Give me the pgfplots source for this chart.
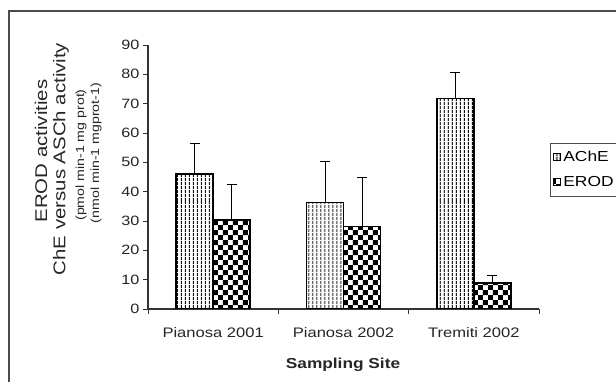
\documentclass[border=0pt]{standalone}
\usepackage{fontspec}
\setmainfont{Liberation Sans}[FakeStretch=1.2]
\usepackage{pgfplots}
\pgfplotsset{compat=1.18}
\usetikzlibrary{patterns.meta}
\tikzdeclarepattern{
  name=mychecker,
  type=uncolored,
  bottom left={(0pt,0pt)},
  top right={(10.4pt,10.4pt)},
  tile size={(10.4pt,10.4pt)},
  code={
    \fill (0pt,0pt) rectangle (5.2pt,5.2pt);
    \fill (5.2pt,5.2pt) rectangle (10.4pt,10.4pt);
  }
}
\begin{document}
\begin{tikzpicture}
\useasboundingbox (0,0) rectangle (616pt,382pt);
\fill[white] (0,0) rectangle (616pt,382pt);
\draw[line width=1.2pt, black!70] (9pt,-20pt) -- (9pt,371pt) -- (640pt,371pt);
\begin{axis}[
  at={(148pt,73pt)}, anchor=south west,
  scale only axis, width=391pt, height=264pt,
  xmin=-0.5, xmax=2.5, ymin=0, ymax=90,
  ytick={0,10,...,90},
  xtick={0,1,2},
  xticklabels={Pianosa 2001, Pianosa 2002, Tremiti 2002},
  minor xtick={-0.5,0.5,1.5,2.5},
  major x tick style={draw=none},
  minor x tick style={black!80, line width=0.8pt},
  y tick style={black!80, line width=0.8pt},
  tick align=outside,
  major tick length=5pt, minor tick length=5pt,
  axis x line*=bottom, axis y line*=left,
  axis line style={black!80, line width=1.1pt, -},
  /pgf/number format/assume math mode=true,
  yticklabel style={font=\fontsize{13.5}{14}\selectfont, text=black!85},
  xticklabel style={font=\fontsize{13.8}{14}\selectfont, text=black!85, yshift=-10pt},
  ybar=0pt, bar width=37pt,
  error bars/y dir=plus, error bars/y explicit,
  error bars/error mark=|,
  error bars/error mark options={black, line width=0.8pt, mark size=5pt},
  error bars/error bar style={black, line width=0.8pt},
  legend style={at={(1.028,0.629)}, anchor=north west, draw=black!70, line width=0.8pt,
    font=\fontsize{14.5}{15}\selectfont, inner xsep=3pt, inner ysep=6pt, row sep=9pt, cells={anchor=west}},
  legend image code/.code={\draw[#1, line width=1pt] (0pt,-3.5pt) rectangle (7pt,3.5pt);},
]
\addplot[draw=black, line width=1.6pt, pattern={Lines[angle=90,distance=4pt,line width=1.3pt]}]
  coordinates {(0,46) +- (0,10.3) (1,36.3) +- (0,13.9) (2,71.8) +- (0,8.9)};
\addplot[draw=black, line width=1.6pt, pattern=mychecker]
  coordinates {(0,30.3) +- (0,12.3) (1,28.1) +- (0,16.7) (2,8.8) +- (0,2.8)};
\legend{AChE, EROD}
\end{axis}
\node[rotate=90, font=\fontsize{17}{18}\selectfont, text=black!85] at (41pt,231pt) {EROD activities};
\node[rotate=90, font=\fontsize{17}{18}\selectfont, text=black!85] at (61pt,223pt) {ChE versus ASCh activity};
\node[rotate=90, font=\fontsize{11.8}{12}\selectfont, text=black!85] at (81pt,227pt) {(pmol min-1 mg prot)};
\node[rotate=90, font=\fontsize{11.8}{12}\selectfont, text=black!85] at (96pt,229pt) {(nmol min-1 mgprot-1)};
\node[font=\bfseries\fontsize{14.4}{15}\selectfont, text=black!85] at (343pt,17pt) {Sampling Site};
\end{tikzpicture}
\end{document}
